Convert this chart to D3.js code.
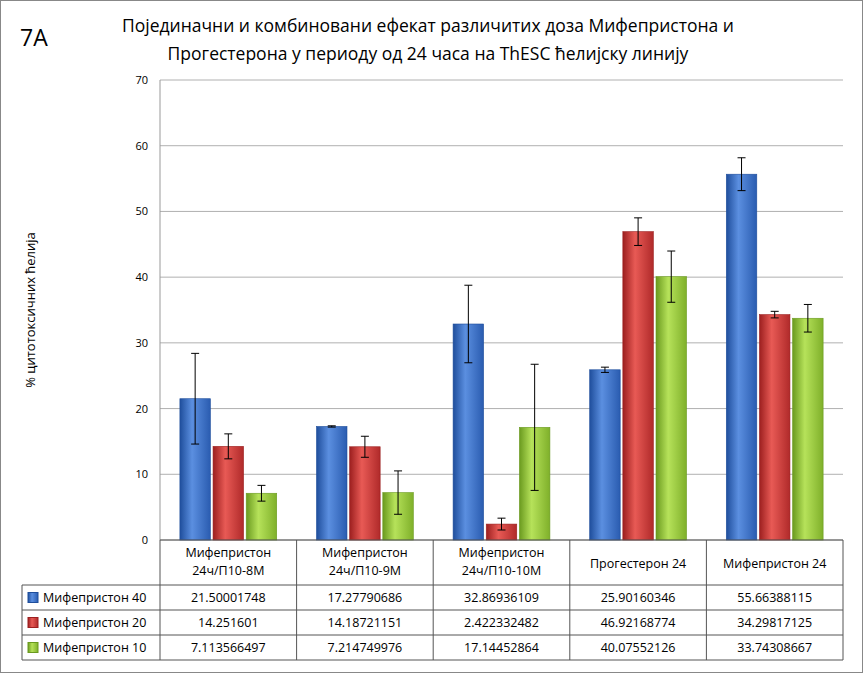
<!DOCTYPE html>
<html><head><meta charset="utf-8">
<script src="https://cdn.jsdelivr.net/npm/d3@7"></script>
<style>body{margin:0;background:#fff;font-family:"Open Sans","Liberation Sans",Arial,sans-serif}</style>
</head><body>
<svg id="c" width="863" height="673"></svg>
<script>
const categories = ["Мифепристон\n24ч/П10-8М", "Мифепристон\n24ч/П10-9М", "Мифепристон\n24ч/П10-10М", "Прогестерон 24", "Мифепристон 24"];
const seriesNames = ["Мифепристон 40", "Мифепристон 20", "Мифепристон 10"];
const mif40 = [21.50001748, 17.27790686, 32.86936109, 25.90160346, 55.66388115];
const mif20 = [14.251601, 14.18721151, 2.422332482, 46.92168774, 34.29817125];
const mif10 = [7.113566497, 7.214749976, 17.14452864, 40.07552126, 33.74308667];
const err40 = [6.9, 0.1, 5.9, 0.4, 2.5];
const err20 = [1.9, 1.6, 0.9, 2.1, 0.5];
const err10 = [1.2, 3.3, 9.6, 3.9, 2.1];
const yTicks = [0, 10, 20, 30, 40, 50, 60, 70];
const colors = [["#1f4e9c", "#5b8fe0", "#2a5cb0"], ["#9c1f1f", "#e85a55", "#b02a2a"], ["#6a9a1f", "#b6e25a", "#7fb02a"]];

const series = [mif40, mif20, mif10], errs = [err40, err20, err10];
const svg = d3.select("#c");
svg.append("rect").attr("x", 0.5).attr("y", 0.5).attr("width", 862).attr("height", 672).attr("fill", "#fff").attr("stroke", "#888");

const L = 160, R = 843, T = 80, B = 540;
const x = d3.scaleBand().domain(categories).range([L, R]);
const xs = d3.scaleBand().domain([0, 1, 2]).range([0, x.bandwidth()]).paddingInner(0.08).paddingOuter(0.6);
const y = d3.scaleLinear().domain([0, 70]).range([B, T]);

const defs = svg.append("defs");
colors.forEach((c, i) => {
  const g = defs.append("linearGradient").attr("id", "g" + i);
  g.append("stop").attr("offset", "0%").attr("stop-color", c[0]);
  g.append("stop").attr("offset", "40%").attr("stop-color", c[1]);
  g.append("stop").attr("offset", "100%").attr("stop-color", c[2]);
});

// title
svg.append("text").attr("x", 20).attr("y", 46).attr("font-size", 23).text("7A");
svg.append("text").attr("x", 428).attr("y", 32).attr("text-anchor", "middle").attr("font-size", 17.5).text("Појединачни и комбиновани ефекат различитих доза Мифепристона  и");
svg.append("text").attr("x", 428).attr("y", 60).attr("text-anchor", "middle").attr("font-size", 17.5).text("Прогестерона у периоду од 24 часа на ThESC ћелијску линију");

// grid + y axis
svg.append("g").selectAll("line").data(yTicks).join("line")
  .attr("x1", L).attr("x2", R).attr("y1", d => y(d)).attr("y2", d => y(d)).attr("stroke", "#b0b0b0");
svg.append("line").attr("x1", L).attr("x2", L).attr("y1", T).attr("y2", B).attr("stroke", "#999");
svg.append("g").selectAll("text").data(yTicks).join("text")
  .attr("x", L - 12).attr("y", d => y(d) + 4).attr("text-anchor", "end").attr("font-size", 11).text(d => d);
svg.append("text").attr("transform", "translate(35,310) rotate(-90)").attr("text-anchor", "middle").attr("font-size", 13).text("% цитотоксичних ћелија");

// bars
series.forEach((s, si) => {
  const g = svg.append("g");
  g.selectAll("rect").data(s).join("rect")
    .attr("x", (d, i) => x(categories[i]) + xs(si)).attr("width", xs.bandwidth())
    .attr("y", d => y(d)).attr("height", d => B - y(d))
    .attr("fill", `url(#g${si})`).attr("stroke", colors[si][0]).attr("stroke-width", 0.6);
  s.forEach((d, i) => {
    const cx = x(categories[i]) + xs(si) + xs.bandwidth() / 2, e = errs[si][i];
    g.append("line").attr("x1", cx).attr("x2", cx).attr("y1", y(d + e)).attr("y2", y(d - e)).attr("stroke", "#000");
    [d + e, d - e].forEach(v => g.append("line").attr("x1", cx - 4).attr("x2", cx + 4).attr("y1", y(v)).attr("y2", y(v)).attr("stroke", "#000"));
  });
});

// data table
const rowsY = [585, 610, 635, 660];
const tbl = svg.append("g").attr("stroke", "#555").attr("fill", "none");
tbl.append("line").attr("x1", L).attr("x2", R).attr("y1", B).attr("y2", B);
rowsY.forEach(v => tbl.append("line").attr("x1", 22).attr("x2", R).attr("y1", v).attr("y2", v));
tbl.append("line").attr("x1", 22).attr("x2", 22).attr("y1", rowsY[0]).attr("y2", rowsY[3]);
[L, ...categories.map(c => x(c) + x.bandwidth())].forEach(v => tbl.append("line").attr("x1", v).attr("x2", v).attr("y1", B).attr("y2", rowsY[3]));

categories.forEach(c => {
  const lines = c.split("\n");
  const t = svg.append("text").attr("text-anchor", "middle").attr("font-size", 12.5);
  const y0 = lines.length > 1 ? 557 : 568;
  lines.forEach((l, k) => t.append("tspan").attr("x", x(c) + x.bandwidth() / 2).attr("y", y0 + k * 18).text(l));
});
seriesNames.forEach((n, si) => {
  const yy = rowsY[si] + 12.5;
  svg.append("rect").attr("x", 28).attr("y", yy - 5).attr("width", 10).attr("height", 10).attr("fill", `url(#g${si})`).attr("stroke", colors[si][0]);
  svg.append("text").attr("x", 43).attr("y", yy + 4.5).attr("font-size", 12.5).text(n);
  series[si].forEach((v, i) => svg.append("text").attr("x", x(categories[i]) + x.bandwidth() / 2).attr("y", yy + 4.5)
    .attr("text-anchor", "middle").attr("font-size", 12.5).text(String(v)));
});
</script>
</body></html>
